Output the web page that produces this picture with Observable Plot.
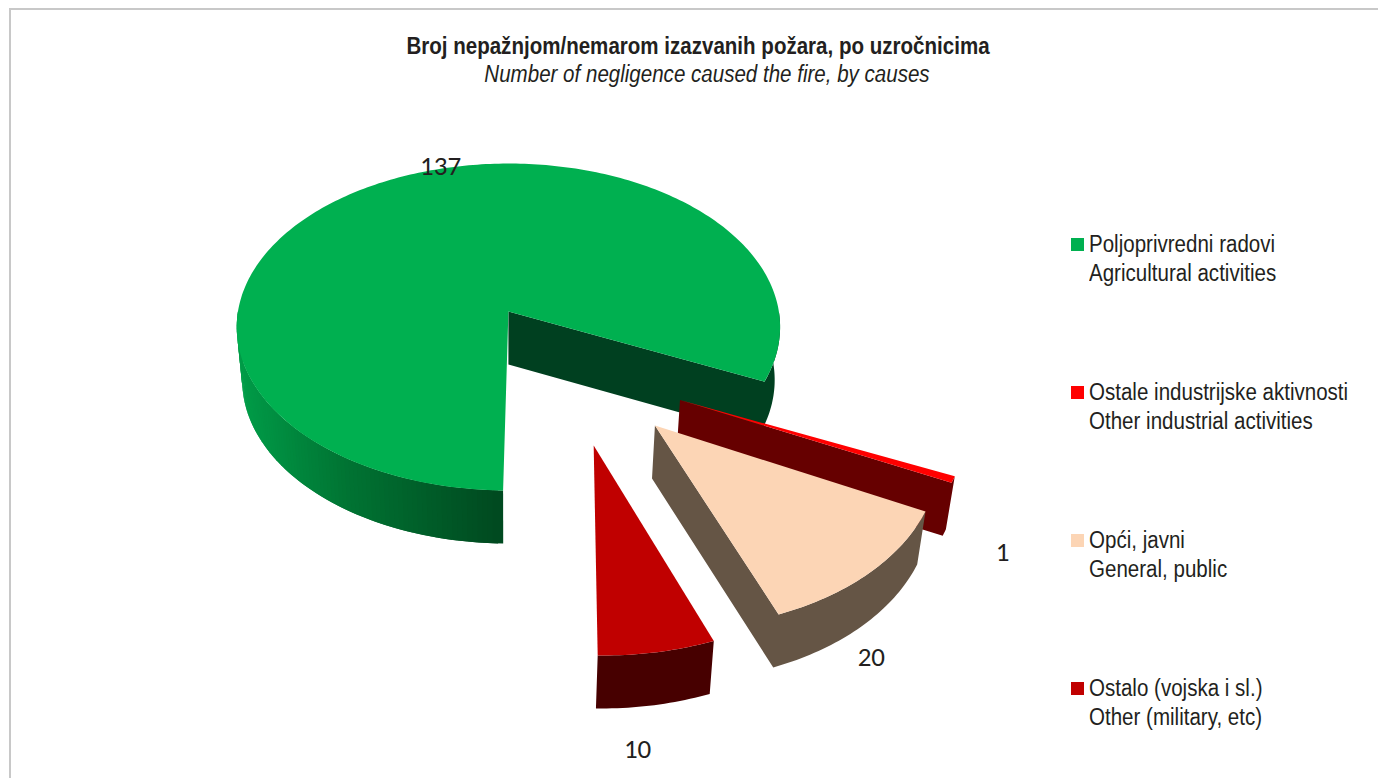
<!DOCTYPE html>
<html>
<head>
<meta charset="utf-8">
<script src="https://cdn.jsdelivr.net/npm/d3@7"></script>
<script src="https://cdn.jsdelivr.net/npm/@observablehq/plot@0.6"></script>
<style>
html,body{margin:0;padding:0;background:#fff;overflow:hidden}
#wrap{position:relative;width:1378px;height:778px;overflow:hidden}
#wrap svg{display:block;position:absolute;left:0;top:0}
.frame{position:absolute;background:#c8c8c8}
.t{position:absolute;font-family:"Liberation Sans",Arial,sans-serif;font-size:23px;color:#231f20;white-space:nowrap;line-height:28px;transform:scaleX(.893);transform-origin:left center}
.swatch{position:absolute;width:13px;height:13px}
</style>
</head>
<body>
<div id="wrap"></div>
<script>
const namesHr = ["Poljoprivredni radovi","Ostale industrijske aktivnosti","Opći, javni","Ostalo (vojska i sl.)"];
const namesEn = ["Agricultural activities","Other industrial activities","General, public","Other (military, etc)"];
const values = [137,1,20,10];
const topColors = ["#00B050","#FF0000","#FCD5B5","#C00000"];
const wallColors = ["#004020","#660000","#655545","#470000"];
const titleHr = "Broj nepažnjom/nemarom izazvanih požara, po uzročnicima";
const titleEn = "Number of negligence caused the fire, by causes";

// layout of the perspective view
const cx=509, cy=311, R=271, H=162, k=0.095, shrink=0.98, depth=53;
const explode=[[-0.004,0],[0.598,-0.52],[0.503,-0.66],[0.288,-0.767]];
const radiusX=[0.998,0.99,0.975,0.985];
const radiusY=[1,0.98,0.99,1];
const labelDisk=[[-0.278,0.978],[1.594,-1.304],[1.11,-1.775],[0.376,-2.151]];
const legendTop=[238,386,534,682];
const deg=Math.PI/180;

const slices=d3.pie().sort(null).startAngle(181*deg).endAngle(541*deg)(values);

function proj(X,Y,bottom){
  const w=1+k*Y; let x=cx+R*X/w, y=cy-H*Y/w;
  if(bottom){x=cx+(x-cx)*shrink; y+=depth;}
  return {x,y};
}
const rimPt=(i,a,r,b)=>proj(explode[i][0]+r*radiusX[i]*Math.sin(a),explode[i][1]+r*radiusY[i]*Math.cos(a),b);
function arcAngles(a0,a1){
  const n=Math.max(2,Math.ceil(Math.abs(a1-a0)/deg)); return d3.range(n+1).map(j=>a0+(a1-a0)*j/n);
}
const polys=[];
let pid=0;
function poly(pts,color){const id=pid++; pts.forEach(p=>polys.push({x:p.x,y:p.y,id,color}));}
function topFace(i){
  const s=slices[i];
  poly([rimPt(i,0,0,false),...arcAngles(s.startAngle,s.endAngle).map(a=>rimPt(i,a,1,false))],topColors[i]);
}
function rimFlat(i,a0,a1){
  const as=arcAngles(a0,a1);
  poly([...as.map(a=>rimPt(i,a,1,false)),...as.slice().reverse().map(a=>rimPt(i,a,1,true))],wallColors[i]);
}
function rimAndWall(i,a0,a1){
  // rim from a0 to a1 and the cut face at a1, as one shape
  const as=arcAngles(a0,a1);
  poly([rimPt(i,0,0,false),...as.slice().reverse().map(a=>rimPt(i,a,1,false)),...as.map(a=>rimPt(i,a,1,true)),rimPt(i,0,0,true)],wallColors[i]);
}
function rimRamp(i,a0,a1,ramp){
  // overlapping strips, drawn in order, so no seams show
  const as=arcAngles(a0,a1);
  for(let j=as.length-2;j>=0;j--){
    const e=as[Math.min(j+2,as.length-1)];
    const p=[rimPt(i,as[j],1,false),rimPt(i,e,1,false),rimPt(i,e,1,true),rimPt(i,as[j],1,true)];
    poly(p,ramp(p[0].x));
  }
}
const greenRamp=d3.scaleLinear().domain([240,350,503]).range(["#009c48","#007433","#004a20"]).clamp(true);

// paint back to front
const [g,o,p,r]=slices;
rimRamp(0,g.startAngle,270*deg,greenRamp);
rimAndWall(0,450*deg,g.endAngle);
topFace(0);
rimAndWall(1,o.startAngle,o.endAngle);
topFace(1);
rimAndWall(2,p.startAngle,p.endAngle);
topFace(2);
rimFlat(3,r.startAngle,r.endAngle);
topFace(3);

const labels=slices.map((s,i)=>({...proj(labelDisk[i][0],labelDisk[i][1],false),text:String(s.value)}));

const plot=Plot.plot({
  width:1378,height:778,margin:0,
  x:{domain:[0,1378],range:[0,1378],axis:null},
  y:{domain:[0,778],range:[0,778],axis:null},
  marks:[
    Plot.line(polys,{x:"x",y:"y",z:"id",fill:"color",stroke:"none",curve:"linear"}),
    Plot.text(labels,{x:"x",y:"y",text:"text",fontSize:27,fontFamily:"Carlito, Lato, sans-serif",fill:"#231f20"})
  ]
});
const wrap=document.getElementById("wrap");
wrap.appendChild(plot);

function addText(txt,css){const d=document.createElement("div");d.className="t";d.textContent=txt;Object.assign(d.style,css);wrap.appendChild(d);}
addText(titleHr,{left:"0",width:"1396px",textAlign:"center",top:"32px",fontWeight:"bold",transformOrigin:"center"});
addText(titleEn,{left:"0",width:"1414px",textAlign:"center",top:"60px",fontStyle:"italic",transformOrigin:"center"});
namesHr.forEach((n,i)=>{
  const t=legendTop[i];
  const s=document.createElement("div");s.className="swatch";s.style.left="1071px";s.style.top=t+"px";s.style.background=topColors[i];wrap.appendChild(s);
  addText(n,{left:"1089px",top:(t-8)+"px"});
  addText(namesEn[i],{left:"1089px",top:(t+20.5)+"px"});
});
[{left:"9px",top:"8px",width:"1369px",height:"2px"},{left:"9px",top:"8px",width:"2px",height:"770px"}].forEach(c=>{
  const f=document.createElement("div");f.className="frame";Object.assign(f.style,c);wrap.appendChild(f);
});
</script>
</body>
</html>
